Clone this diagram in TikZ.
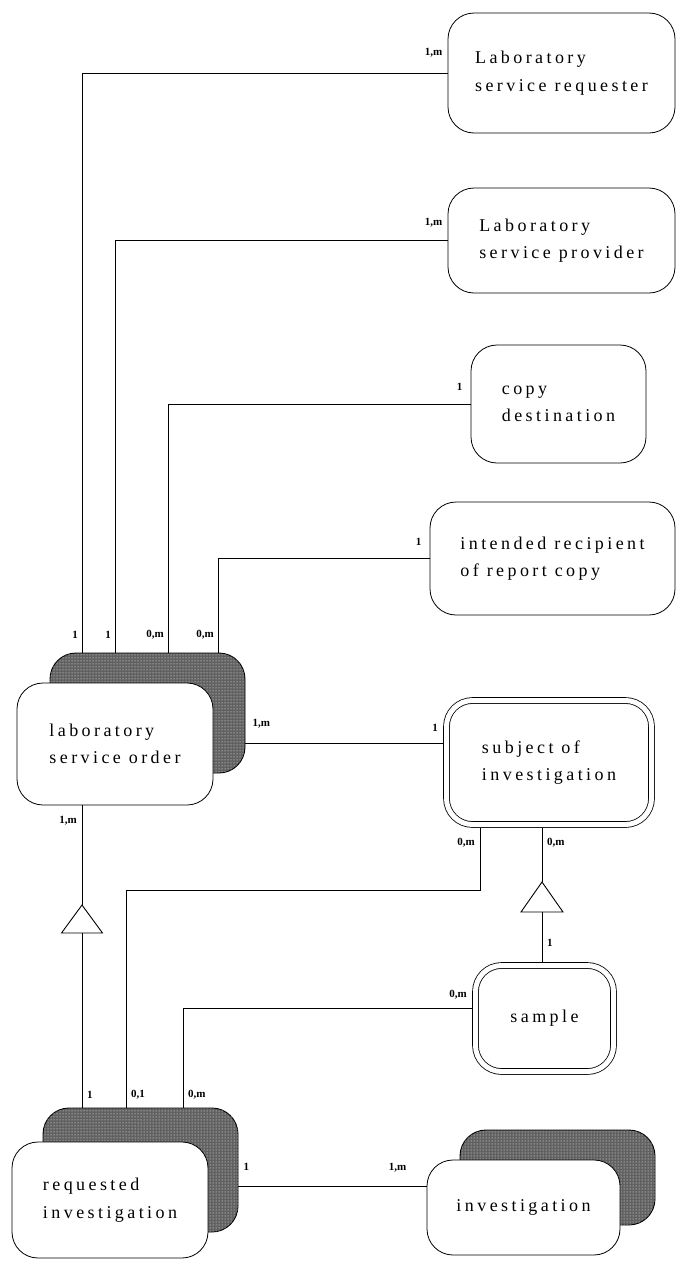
\documentclass[tikz,border=0pt]{standalone}
\usepackage{fontspec}
\newfontfamily\boxfont[LetterSpace=19]{Liberation Serif}
\newfontfamily\labfont{Liberation Serif}
\usetikzlibrary{patterns,calc}
\begin{document}
\begin{tikzpicture}[x=1pt,y=-1pt,
  ent/.style={draw, line width=0.8pt, rounded corners=26pt, fill=white, inner sep=0pt,
    font=\boxfont\fontsize{18}{27.5}\selectfont, align=left},
  shadowbox/.style={draw, line width=0.9pt, rounded corners=26pt, fill=black!62,
    postaction={pattern=dots, pattern color=white}},
  dbl/.style={ent, double, double distance=5pt},
  lab/.style={font=\labfont\bfseries\fontsize{11}{11}\selectfont, inner sep=0pt},
  conn/.style={line width=0.6pt}]
\useasboundingbox (0,0) rectangle (677,1261);

% right column entities
\node[ent, minimum width=227, minimum height=120] (A) at (561.5,73) {Laboratory\\service requester};
\node[ent, minimum width=227, minimum height=105] (B) at (561.5,240.5) {Laboratory\\service provider};
\node[ent, minimum width=175, minimum height=118] (C) at (558.5,404) {copy\\destination};
\node[ent, minimum width=245, minimum height=113] (D) at (552.5,558.5) {intended recipient\\of report copy};
\node[dbl, minimum width=205, minimum height=124] (Subj) at (549,762.5) {subject of\\investigation};
\node[dbl, minimum width=138, minimum height=106] (Samp) at (544.5,1018.5) {sample};

% laboratory service order (stacked)
\node[shadowbox, minimum width=195, minimum height=120] (LSOb) at (147.5,713) {};
\node[ent, minimum width=196, minimum height=122] (LSOf) at (115,744) {laboratory\\service order};

% requested investigation (stacked)
\node[shadowbox, minimum width=195, minimum height=124] (RIb) at (140.5,1170) {};
\node[ent, minimum width=196, minimum height=116] (RIf) at (110,1200) {requested\\investigation};

% investigation (stacked)
\node[shadowbox, minimum width=195, minimum height=95] (Invb) at (557.5,1177.5) {};
\node[ent, minimum width=193, minimum height=95] (Invf) at (523.5,1207.5) {investigation};

% attachment points
\coordinate (pA) at (82,0 |- LSOb.north);
\coordinate (pB) at (115,0 |- LSOb.north);
\coordinate (pC) at (168,0 |- LSOb.north);
\coordinate (pD) at (218,0 |- LSOb.north);
\coordinate (sE) at ([yshift=19.5pt]Subj.west);
\coordinate (lE) at (LSOb.east |- sE);
\coordinate (p1) at (82,0 |- LSOf.south);
\coordinate (qT) at (82,0 |- RIb.north);
\coordinate (qS) at (126,0 |- RIb.north);
\coordinate (qSa) at (183,0 |- RIb.north);
\coordinate (sb1) at (480,0 |- Subj.south);
\coordinate (sb2) at (542,0 |- Subj.south);
\coordinate (bend) at (480,890);
\coordinate (sw) at ([yshift=10.5pt]Samp.west);
\coordinate (st) at (542,0 |- Samp.north);
\coordinate (iw) at ([yshift=21.5pt]Invf.west);
\coordinate (re) at (RIb.east |- iw);

% triangles
\coordinate (T1a) at (82,905);
\coordinate (T1b) at (82,933);
\coordinate (T2a) at (542,882);
\coordinate (T2b) at (542,912);
\draw[line width=0.9pt, fill=white] (T1a) -- ++(-20.5,28) -- ++(41,0) -- cycle;
\draw[line width=0.9pt, fill=white] (T2a) -- ++(-21,30) -- ++(42,0) -- cycle;

% connectors
\draw[conn] (pA) |- (A.west);
\draw[conn] (pB) |- (B.west);
\draw[conn] (pC) |- (C.west);
\draw[conn] (pD) |- (D.west);
\draw[conn, shorten >=3.5pt] (lE) -- (sE);
\draw[conn] (p1) -- (T1a);
\draw[conn] (T1b) -- (qT);
\draw[conn, shorten <=3.5pt] (sb1) -- (bend) -| (qS);
\draw[conn, shorten <=3.5pt] (sb2) -- (T2a);
\draw[conn, shorten >=3.5pt] (T2b) -- (st);
\draw[conn, shorten >=3.5pt] (qSa) |- (sw);
\draw[conn] (re) -- (iw);

% cardinality labels
\node[lab, anchor=east] (lA) at ([xshift=-5pt,yshift=20pt]A.west) {1,m};
\node[lab, anchor=east] (lB) at ([xshift=-5pt,yshift=18pt]B.west) {1,m};
\node[lab, anchor=east] (lC) at ([xshift=-8pt,yshift=17pt]C.west) {1};
\node[lab, anchor=east] (lD) at ([xshift=-8pt,yshift=17pt]D.west) {1};
\node[lab, anchor=east] (l1) at ([xshift=-4pt,yshift=18pt]pA) {1};
\node[lab, anchor=east] (l2) at ([xshift=-4pt,yshift=18pt]pB) {1};
\node[lab, anchor=east] (l3) at ([xshift=-4pt,yshift=18pt]pC) {0,m};
\node[lab, anchor=east] (l4) at ([xshift=-4pt,yshift=18pt]pD) {0,m};
\node[lab, anchor=west] (l5) at ([xshift=7pt,yshift=19pt]lE) {1,m};
\node[lab, anchor=east] (l6) at ([xshift=-8pt,yshift=15pt]sE) {1};
\node[lab, anchor=east] (l7) at ([xshift=-5pt,yshift=-15pt]p1) {1,m};
\node[lab, anchor=east] (l8) at ([xshift=-5pt,yshift=-18pt]sb1) {0,m};
\node[lab, anchor=west] (l9) at ([xshift=5pt,yshift=-18pt]sb2) {0,m};
\node[lab, anchor=west] (l10) at ([xshift=5pt,yshift=-31pt]T2b) {1};
\node[lab, anchor=east] (l11) at ([xshift=-8pt,yshift=13pt]sw) {0,m};
\node[lab, anchor=west] (l12) at ([xshift=5pt,yshift=13pt]qT) {1};
\node[lab, anchor=west] (l13) at ([xshift=5pt,yshift=13pt]qS) {0,1};
\node[lab, anchor=west] (l14) at ([xshift=5pt,yshift=13pt]qSa) {0,m};
\node[lab, anchor=west] (l15) at ([xshift=5pt,yshift=19pt]re) {1};
\node[lab, anchor=east] (l16) at ([xshift=-20pt,yshift=18pt]iw) {1,m};
\end{tikzpicture}
\end{document}
